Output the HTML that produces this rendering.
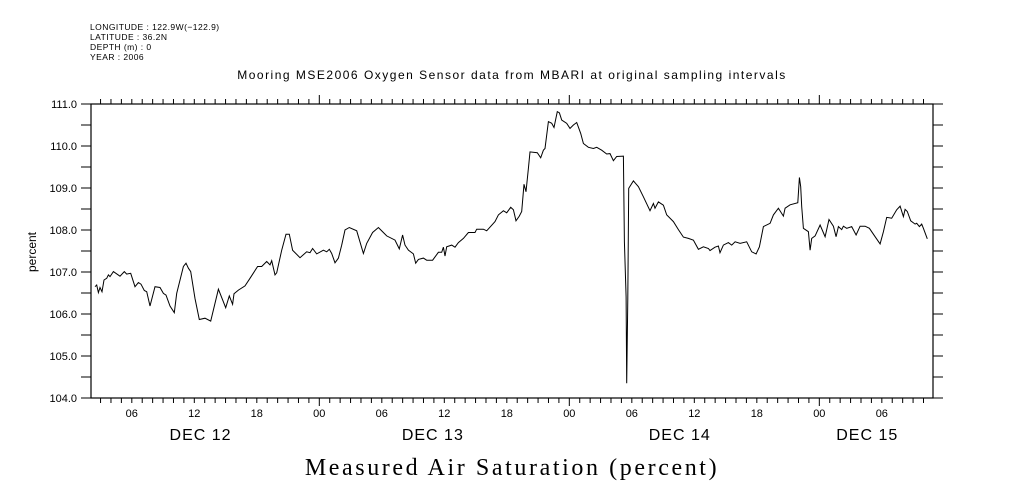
<!DOCTYPE html>
<html><head><meta charset="utf-8"><style>
body{margin:0;background:#fff;}
svg{display:block;font-family:"Liberation Sans",sans-serif;}
</style></head><body>
<svg id="chart" width="1009" height="504" viewBox="0 0 1009 504">
<g font-size="8.5" fill="#000" letter-spacing="0.45">
<text x="90" y="30">LONGITUDE : 122.9W(−122.9)</text>
<text x="90" y="40">LATITUDE : 36.2N</text>
<text x="90" y="50">DEPTH (m) : 0</text>
<text x="90" y="60">YEAR : 2006</text>
</g>
<text x="512" y="79" font-size="12" letter-spacing="1.5" text-anchor="middle">Mooring MSE2006 Oxygen Sensor data from MBARI at original sampling intervals</text>
<text x="0" y="0" font-size="12" text-anchor="middle" transform="translate(36,252) rotate(-90)">percent</text>
<text x="512" y="475" font-size="24" letter-spacing="2.6" text-anchor="middle" font-family="Liberation Serif, serif">Measured Air Saturation (percent)</text>
<g id="axes"></g>
<g id="marks"></g>
</svg>
<script>
const hours=[2.47,2.63,2.79,2.95,3.14,3.33,3.59,3.75,3.91,4.23,4.87,5.28,5.51,5.89,6.31,6.63,6.88,7.20,7.43,7.75,8.23,8.71,9.03,9.28,9.67,10.08,10.31,10.95,11.20,11.43,11.65,12.07,12.48,13.03,13.57,14.31,15.01,15.36,15.68,15.81,16.23,16.87,17.35,18.08,18.47,18.95,19.27,19.43,19.75,19.91,20.39,20.80,21.12,21.44,22.15,22.79,23.11,23.36,23.75,24.39,24.71,24.96,25.19,25.51,25.83,26.15,26.47,26.88,27.59,28.23,28.55,29.12,29.67,30.47,31.27,31.68,32.00,32.23,32.55,33.03,33.25,33.51,33.99,34.31,34.88,35.43,35.75,35.91,36.07,36.23,36.71,37.03,37.35,37.83,38.31,38.95,39.11,39.75,40.07,40.87,41.19,41.67,41.99,42.37,42.63,42.88,43.20,43.43,43.65,43.84,44.07,44.23,44.93,45.25,45.51,45.67,45.99,46.31,46.53,46.85,47.05,47.27,47.75,48.07,48.39,48.71,49.09,49.35,49.83,50.31,50.63,51.11,51.59,51.91,52.23,52.55,53.19,53.29,53.45,53.51,53.61,53.70,54.15,54.63,55.11,55.75,56.07,56.23,56.55,57.03,57.35,57.99,58.47,58.95,59.43,59.91,60.39,60.87,61.35,61.51,61.99,62.31,62.47,62.79,63.27,63.59,63.91,64.39,65.03,65.51,65.93,66.25,66.63,67.27,67.59,68.07,68.55,68.71,69.19,69.93,70.09,70.21,70.31,70.47,70.95,71.11,71.27,71.59,72.07,72.55,72.93,73.35,73.61,73.83,74.15,74.31,74.63,75.11,75.53,75.91,76.39,76.81,77.35,77.83,78.15,78.47,78.95,79.43,79.75,80.07,80.23,80.45,80.77,81.19,81.35,81.61,81.83,81.99,82.37];
const values=[106.65,106.69,106.51,106.63,106.53,106.81,106.85,106.93,106.89,107.01,106.90,107.01,106.95,106.97,106.65,106.75,106.71,106.56,106.53,106.19,106.65,106.63,106.49,106.45,106.19,106.03,106.49,107.13,107.21,107.09,107.01,106.37,105.87,105.90,105.83,106.59,106.15,106.43,106.23,106.48,106.57,106.67,106.85,107.13,107.13,107.25,107.17,107.27,106.93,106.98,107.52,107.90,107.90,107.52,107.34,107.48,107.46,107.56,107.43,107.52,107.48,107.54,107.44,107.22,107.33,107.64,108.00,108.06,107.98,107.44,107.68,107.94,108.06,107.86,107.76,107.55,107.88,107.64,107.52,107.43,107.21,107.30,107.33,107.28,107.28,107.47,107.47,107.59,107.38,107.60,107.64,107.59,107.70,107.80,107.94,107.94,108.02,108.02,107.98,108.20,108.36,108.46,108.41,108.54,108.48,108.22,108.33,108.44,109.09,108.91,109.47,109.86,109.84,109.72,109.90,109.94,110.58,110.54,110.44,110.82,110.79,110.62,110.54,110.42,110.50,110.56,110.30,110.06,109.97,109.94,109.97,109.90,109.81,109.82,109.65,109.75,109.76,107.72,106.41,104.35,106.37,108.99,109.17,109.03,108.79,108.46,108.63,108.52,108.67,108.59,108.36,108.20,108.01,107.83,107.80,107.76,107.54,107.60,107.56,107.51,107.59,107.62,107.46,107.64,107.70,107.64,107.72,107.68,107.72,107.48,107.43,107.60,108.08,108.16,108.36,108.52,108.33,108.52,108.60,108.65,109.25,109.03,108.56,108.04,107.96,107.52,107.80,107.86,108.12,107.84,108.25,108.09,107.84,108.08,108.01,108.09,108.04,108.08,107.88,108.09,108.09,108.04,107.84,107.67,107.96,108.30,108.28,108.48,108.57,108.32,108.49,108.44,108.22,108.14,108.16,108.08,108.14,108.04,107.79];
const yTickValues=[104,105,106,107,108,109,110,111];
const yTickLabels=["104.0","105.0","106.0","107.0","108.0","109.0","110.0","111.0"];
const dayNames=["DEC 12","DEC 13","DEC 14","DEC 15"];
const dayLabelHours=[12.6,34.9,58.6,76.6];
const hourLabels=["00","06","12","18"];

const X0=91,X1=933,Y0=104,Y1=398;
const H0=(X0-69.3)/10.417,H1=(X1-69.3)/10.417;
const VMIN=104,VMAX=111;
const xs=h=>X0+(h-H0)/(H1-H0)*(X1-X0);
const ys=v=>Y1-(v-VMIN)/(VMAX-VMIN)*(Y1-Y0);
const NS="http://www.w3.org/2000/svg";
const axes=document.getElementById('axes'),marks=document.getElementById('marks');
function mk(tag,attrs,parent){const e=document.createElementNS(NS,tag);for(const k in attrs)e.setAttribute(k,attrs[k]);parent.appendChild(e);return e;}

const frame=mk('rect',{x:X0,y:Y0,width:X1-X0,height:Y1-Y0,fill:'none',stroke:'#000','stroke-width':1.2},axes);



for(let v=VMIN;v<=VMAX+1e-9;v+=0.5){
  const y=ys(v);
  const t1=mk('line',{x1:X0-10,y1:y,x2:X0,y2:y,stroke:'#000'},axes);
  
  
  const t2=mk('line',{x1:X1,y1:y,x2:X1+10,y2:y,stroke:'#000'},axes);
  
  
}
yTickValues.forEach((v,i)=>{
  const t=mk('text',{x:X0-14,y:ys(v)+4,'font-size':11,'text-anchor':'end'},axes);
  t.textContent=yTickLabels[i];
  
  
});
for(let h=Math.ceil(H0);h<=H1;h++){
  const x=xs(h);
  const isDay=h%24===0;
  const b=mk('line',{x1:x,y1:Y1,x2:x,y2:Y1+(isDay?8:5),stroke:'#000'},axes);
  
  
  const tp=mk('line',{x1:x,y1:Y0,x2:x,y2:Y0-(isDay?9:5),stroke:'#000'},axes);
  
  
  if(h%6===0){
    const t=mk('text',{x:x,y:Y1+19,'font-size':11,'text-anchor':'middle'},axes);
    t.textContent=hourLabels[(h%24)/6];
    
    
  }
}
dayNames.forEach((d,i)=>{
  const t=mk('text',{x:xs(dayLabelHours[i]),y:Y1+42,'font-size':16,'letter-spacing':1,'text-anchor':'middle'},axes);
  t.textContent=d;
  
  
});
const pts=hours.map((h,i)=>xs(h).toFixed(1)+','+ys(values[i]).toFixed(1)).join(' ');
const line=mk('polyline',{points:pts,fill:'none',stroke:'#000','stroke-width':1},marks);


</script>
</body></html>
